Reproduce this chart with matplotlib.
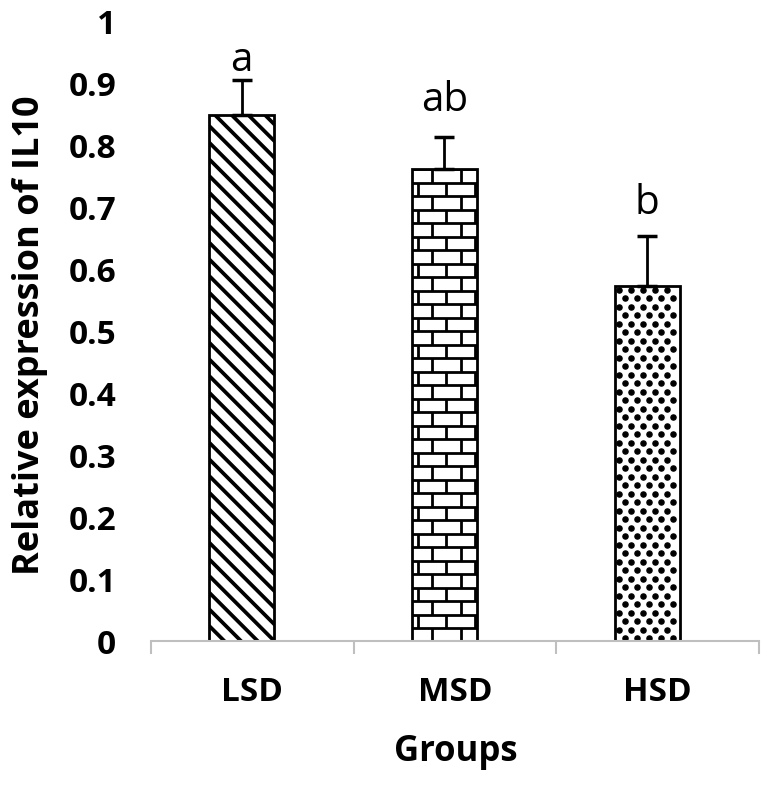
import matplotlib
matplotlib.use('Agg')
import matplotlib.pyplot as plt
import numpy as np
from matplotlib.collections import LineCollection

# ---- data ----
groups = ['LSD', 'MSD', 'HSD']
means = [0.850, 0.762, 0.574]
errors = [0.057, 0.052, 0.080]
letters = ['a', 'ab', 'b']
yticks = [0, 0.1, 0.2, 0.3, 0.4, 0.5, 0.6, 0.7, 0.8, 0.9, 1.0]
ytick_labels = ['0', '0.1', '0.2', '0.3', '0.4', '0.5', '0.6', '0.7', '0.8', '0.9', '1']
xlabel = 'Groups'
ylabel = 'Relative expression of IL10'

# ---- style ----
plt.rcParams['font.family'] = ['Open Sans', 'DejaVu Sans']
plt.rcParams['hatch.linewidth'] = 2.7
plt.rcParams['hatch.color'] = 'black'

W, H = 768, 789
fig = plt.figure(figsize=(W / 100, H / 100), dpi=100)
ax = fig.add_axes([151 / W, 1 - 641 / H, (759 - 151) / W, (641 - 22) / H])
ax.set_xlim(-0.5, 2.5)
ax.set_ylim(0, 1)

x = np.arange(len(groups)) - 0.052
bar_w = 0.32
bars = ax.bar(x, means, width=bar_w, color='white', edgecolor='black',
              linewidth=2.0, zorder=2)
bars[0].set_hatch('\\\\')

fig.canvas.draw()
inv = ax.transData.inverted()


def bar_px(bar):
    x0, y0 = bar.get_x(), bar.get_y()
    w, h = bar.get_width(), bar.get_height()
    (px0, py0), (px1, py1) = ax.transData.transform([(x0, y0), (x0 + w, y0 + h)])
    return px0, py0, px1, py1


def brick_lines(bar, row_px=13.5, brick_px=28.5, first_px=20.0):
    px0, py0, px1, py1 = bar_px(bar)
    segs = []
    r = 0
    yt = py1
    while yt > py0:
        yb = max(yt - row_px, py0)
        segs.append([(px0, yt), (px1, yt)])
        shift = first_px - brick_px + (brick_px / 2) * (r % 2)
        for xv in np.arange(px0 + shift, px1, brick_px):
            if px0 + 1 < xv < px1 - 1:
                segs.append([(xv, yt), (xv, yb)])
        yt -= row_px
        r += 1
    segs = [inv.transform(s) for s in segs]
    lc = LineCollection(segs, colors='black', linewidths=2.0, zorder=2.5)
    ax.add_collection(lc)
    lc.set_clip_path(bar)


def dot_fill(bar, row_px=8.5, col_px=12.0, dot_pt=3.7):
    px0, py0, px1, py1 = bar_px(bar)
    pts = []
    r = 0
    yv = py1 - 4
    while yv > py0 + 1:
        shift = 4 + (col_px / 2) * (r % 2)
        for xv in np.arange(px0 + shift, px1 - 1, col_px):
            pts.append((xv, yv))
        yv -= row_px
        r += 1
    pts = inv.transform(np.array(pts))
    ln, = ax.plot(pts[:, 0], pts[:, 1], linestyle='none', marker='o',
                  markersize=dot_pt, color='black', zorder=2.5)
    ln.set_clip_path(bar)


brick_lines(bars[1])
dot_fill(bars[2])

ax.errorbar(x, means, yerr=[np.zeros(len(errors)), errors], fmt='none',
            ecolor='black', elinewidth=2.0, capsize=7, capthick=2.5, zorder=3)

label_offsets = [6, 19, 16]
for xi, m, e, t, off in zip(x, means, errors, letters, label_offsets):
    ax.annotate(t, (xi, m + e), xytext=(0, off), textcoords='offset points',
                ha='center', va='baseline', fontsize=29, color='black')

for s in ['top', 'right', 'left']:
    ax.spines[s].set_visible(False)
ax.spines['bottom'].set_color('#BFBFBF')
ax.spines['bottom'].set_linewidth(1.5)

ax.set_xticks(np.arange(len(groups)))
ax.set_xticklabels(groups, fontweight='bold', fontsize=24)
ax.set_xticks(np.arange(len(groups) + 1) - 0.5, minor=True)
ax.tick_params(axis='x', which='major', length=0, pad=25)
ax.tick_params(axis='x', which='minor', length=9, width=1.5, color='#BFBFBF',
               direction='out')

ax.set_yticks(yticks)
ax.set_yticklabels(ytick_labels, fontweight='bold', fontsize=24)
ax.tick_params(axis='y', length=0, pad=25)

fig.text(30 / W, 1 - 335 / H, ylabel, rotation=90, ha='center', va='center',
         fontsize=26, fontweight='bold')
fig.text(456 / W, 1 - 752 / H, xlabel, ha='center', va='center',
         fontsize=25, fontweight='bold')

fig.savefig('out.png', dpi=100, facecolor='white')
